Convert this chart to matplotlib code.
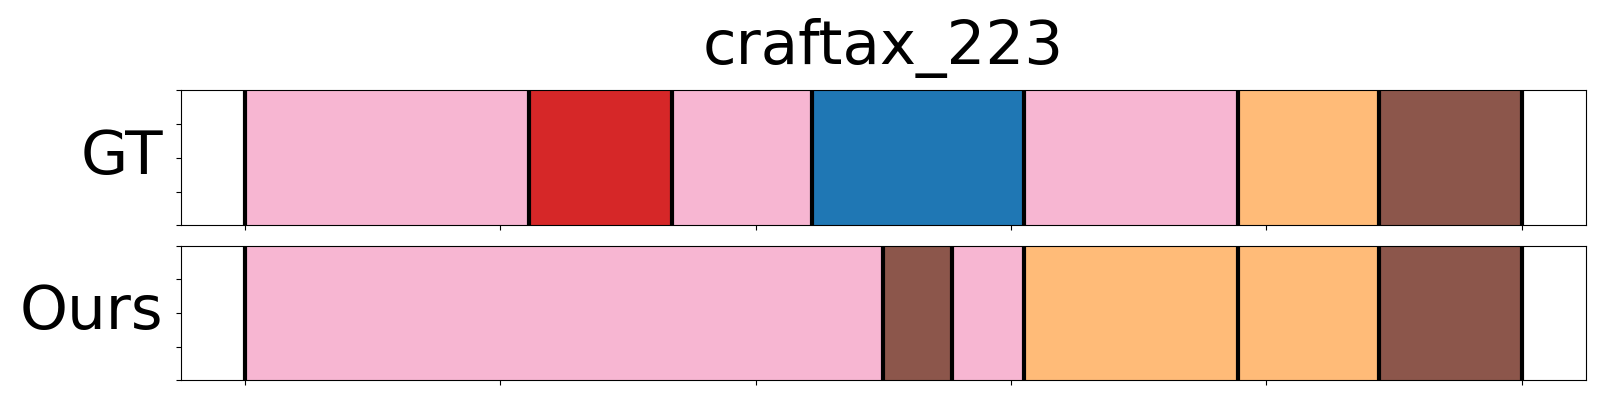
import numpy as np
import matplotlib
matplotlib.use('Agg')
import matplotlib.pyplot as plt

title = 'craftax_223'
rows = ['GT', 'Ours']

# segment boundaries (frame index) and colours per row
gt_bounds = [0, 55.5, 83.5, 111, 152.5, 194.5, 222, 250]
gt_colors = ['#f7b6d2', '#d62728', '#f7b6d2', '#1f77b4', '#f7b6d2', '#ffbb78', '#8c564b']

ours_bounds = [0, 125, 138.5, 152.5, 194.5, 222, 250]
ours_colors = ['#f7b6d2', '#8c564b', '#f7b6d2', '#ffbb78', '#ffbb78', '#8c564b']

xticks = [0, 50, 100, 150, 200, 250]

fig = plt.figure(figsize=(16, 4), dpi=100)
ax1 = fig.add_axes([0.1133, 0.437, 0.8777, 0.337])
ax2 = fig.add_axes([0.1133, 0.049, 0.8777, 0.337])

for ax, bounds, colors, name in [(ax1, gt_bounds, gt_colors, rows[0]),
                                  (ax2, ours_bounds, ours_colors, rows[1])]:
    for i, c in enumerate(colors):
        ax.axvspan(bounds[i], bounds[i + 1], color=c, lw=1)
    for b in bounds:
        ax.axvline(b, color='black', lw=3)
    ax.set_xlim(-12.5, 262.5)
    ax.set_ylim(0, 1)
    ax.set_xticks(xticks)
    ax.set_xticklabels([])
    ax.set_yticks(np.linspace(0, 1, 5))
    ax.set_yticklabels([])
    ax.set_ylabel(name, fontsize=44, rotation=0, ha='right', va='center', labelpad=6)

ax1.set_title(title, fontsize=44, pad=19)

plt.savefig('out.png', dpi=100)
